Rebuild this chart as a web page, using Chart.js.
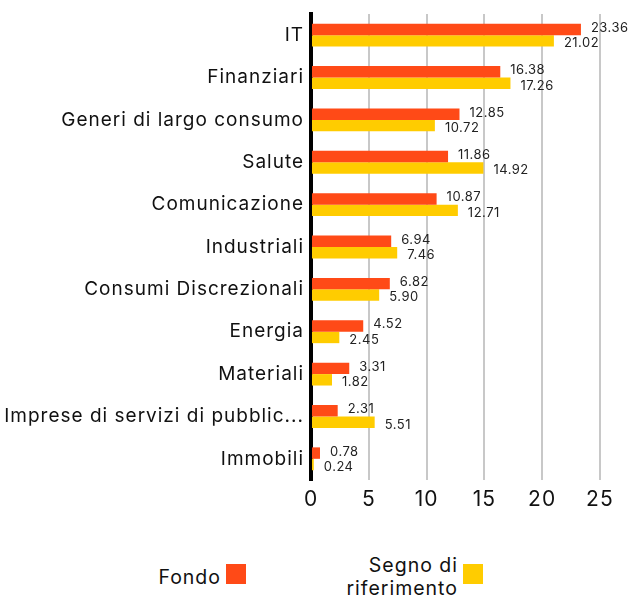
<!DOCTYPE html>
<html>
<head>
<meta charset="utf-8">
<script src="https://cdn.jsdelivr.net/npm/chart.js@4/dist/chart.umd.min.js"></script>
<style>
  body { margin: 0; background: #fff; font-family: Inter, sans-serif; }
  #wrap { position: relative; width: 630px; height: 598px; }
  #chart { position: absolute; left: 0; top: 0; }
  .leg { position: absolute; font-size: 19.5px; letter-spacing: 1px; color: #111; line-height: 23px; text-align: right; }
  .box { position: absolute; width: 20px; height: 20px; }
</style>
</head>
<body>
<div id="wrap">
  <canvas id="chart" width="630" height="510"></canvas>
  <div class="leg" style="left:100px; top:566px; width:121px;">Fondo</div>
  <div class="box" style="left:226px; top:564px; background:#FF4A17;"></div>
  <div class="leg" style="left:280px; top:554px; width:178px;">Segno di<br>riferimento</div>
  <div class="box" style="left:463px; top:564px; background:#FFCC00;"></div>
</div>
<script>
const categories = ['IT', 'Finanziari', 'Generi di largo consumo', 'Salute', 'Comunicazione',
  'Industriali', 'Consumi Discrezionali', 'Energia', 'Materiali',
  'Imprese di servizi di pubblica utilità', 'Immobili'];
const fondo = [23.36, 16.38, 12.85, 11.86, 10.87, 6.94, 6.82, 4.52, 3.31, 2.31, 0.78];
const riferimento = [21.02, 17.26, 10.72, 14.92, 12.71, 7.46, 5.90, 2.45, 1.82, 5.51, 0.24];
const xTicks = [0, 5, 10, 15, 20, 25];

// wider tracking for the axis texts
const tracking = {
  id: 'tracking',
  beforeDraw(chart) { chart.ctx.letterSpacing = '1px'; }
};

// draws the value next to the end of each bar
const valueLabels = {
  id: 'valueLabels',
  afterDatasetsDraw(chart) {
    const ctx = chart.ctx;
    ctx.save();
    ctx.letterSpacing = '0.5px';
    ctx.font = '13px Inter, sans-serif';
    ctx.fillStyle = '#222';
    ctx.textBaseline = 'middle';
    chart.data.datasets.forEach((ds, i) => {
      const shift = i === 0 ? -1.5 : 2.5;
      chart.getDatasetMeta(i).data.forEach((bar, j) => {
        ctx.fillText(ds.data[j].toFixed(2), bar.x + 10, bar.y + shift);
      });
    });
    ctx.restore();
  }
};

new Chart(document.getElementById('chart'), {
  type: 'bar',
  data: {
    labels: categories,
    datasets: [
      { label: 'Fondo', data: fondo, backgroundColor: '#FF4A17', categoryPercentage: 0.54, barPercentage: 1 },
      { label: 'Segno di riferimento', data: riferimento, backgroundColor: '#FFCC00', categoryPercentage: 0.54, barPercentage: 1 }
    ]
  },
  options: {
    indexAxis: 'y',
    responsive: false,
    animation: false,
    layout: { padding: { top: 14, right: 7, left: 0, bottom: 0 } },
    plugins: { legend: { display: false }, tooltip: { enabled: false } },
    scales: {
      x: {
        min: 0,
        max: 27,
        afterBuildTicks: (axis) => { axis.ticks = xTicks.map(v => ({ value: v })); },
        afterFit: (s) => { s.height = 30; s.paddingLeft = 0; s.paddingRight = 0; },
        border: { display: false },
        grid: { color: '#c8c8c8', lineWidth: 2, drawTicks: false },
        ticks: { font: { size: 21, family: 'Inter, sans-serif' }, color: '#111', padding: 7 }
      },
      y: {
        afterFit: (s) => { s.width = 311; s.paddingTop = 0; s.paddingBottom = 0; },
        border: { display: true, color: '#000', width: 4 },
        grid: { display: false, drawTicks: false },
        ticks: {
          font: { size: 19, family: 'Inter, sans-serif' },
          color: '#111',
          padding: 7,
          callback: function (v) {
            const l = this.getLabelForValue(v);
            return l.length > 29 ? l.slice(0, 29) + '...' : l;
          }
        }
      }
    }
  },
  plugins: [tracking, valueLabels]
});
</script>
</body>
</html>
